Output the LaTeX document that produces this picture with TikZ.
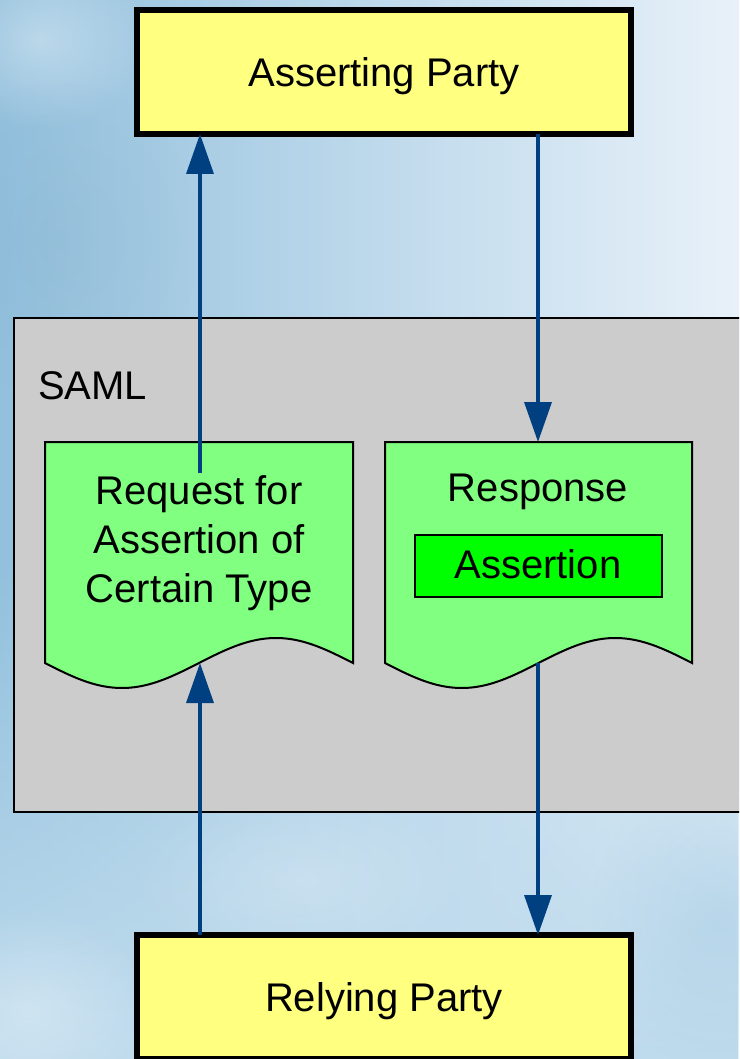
\documentclass[tikz,border=0pt]{standalone}
\usepackage{fontspec}
\setmainfont{Liberation Sans}
\usetikzlibrary{arrows.meta,fadings}

\definecolor{skyL}{RGB}{146,192,221}
\definecolor{skyR}{RGB}{232,241,249}
\definecolor{skyB}{RGB}{190,219,237}
\definecolor{partyfill}{RGB}{255,255,128}
\definecolor{docfill}{RGB}{128,255,128}
\definecolor{assertfill}{RGB}{0,255,0}
\definecolor{samlgray}{RGB}{204,204,204}
\definecolor{flowblue}{RGB}{0,64,128}

\tikzfading[name=softspot, inner color=transparent!0, outer color=transparent!100]

\tikzset{
  txtbig/.style={font=\fontsize{40}{48}\selectfont, inner sep=0pt, outer sep=0pt},
  party/.style={txtbig, draw=black, line width=6pt, fill=partyfill,
    minimum width=494pt, minimum height=124pt, text height=28.7pt, text depth=0pt},
  docshape/.style={draw=black, line width=2pt, fill=docfill},
  assertbox/.style={draw=black, line width=2pt, fill=assertfill},
  samlbox/.style={draw=black, line width=1.5pt, fill=samlgray},
  flow/.style={draw=flowblue, line width=3.5pt, -{Triangle[length=40pt,width=27pt]}},
}

\begin{document}
\begin{tikzpicture}[x=1pt, y=-1pt]
  \useasboundingbox (0,0) rectangle (739,1059);
  \clip (0,0) rectangle (739,1059);

  % sky background
  \shade[left color=skyL, right color=skyR] (0,0) rectangle (739,1059);
  \fill[skyB, path fading=north] (0,560) rectangle (739,1059);
  \fill[white, opacity=0.35, path fading=softspot] (40,40) ellipse [x radius=110pt, y radius=90pt];
  \fill[skyL!85!black, opacity=0.15, path fading=softspot] (60,240) ellipse [x radius=140pt, y radius=160pt];
  \fill[white, opacity=0.3, path fading=softspot] (30,1010) ellipse [x radius=130pt, y radius=100pt];
  \fill[white, opacity=0.2, path fading=softspot] (300,880) ellipse [x radius=170pt, y radius=90pt];
  \fill[skyL, opacity=0.3, path fading=softspot] (720,920) ellipse [x radius=130pt, y radius=150pt];

  % SAML region
  \draw[samlbox] (14,318) rectangle (760,812);
  \node[txtbig, anchor=base west] (samllabel) at (38,399) {SAML};

  % parties
  \node[party] (ap) at (384,72) {Asserting Party};
  \node[party] (rp) at (384,997) {Relying Party};

  % request document
  \draw[docshape] (45,442) -- (353,442) -- (353,663)
    -- plot[domain=0:1, samples=60, smooth] ({353-308*\x},{663-25*sin(360*\x)}) -- cycle;
  \node[txtbig, anchor=base] (req1) at (199,504) {Request for};
  \node[txtbig, anchor=base] (req2) at (199,553) {Assertion of};
  \node[txtbig, anchor=base] (req3) at (199,602) {Certain Type};
  \coordinate (reqin) at (200,473);
  \coordinate (reqwave) at (200,663);

  % response document
  \draw[docshape] (385,442) -- (692,442) -- (692,663)
    -- plot[domain=0:1, samples=60, smooth] ({692-307*\x},{663-25*sin(360*\x)}) -- cycle;
  \node[txtbig, anchor=base] (resp) at (538,501) {Response};
  \draw[assertbox] (415,535) rectangle (662,597);
  \node[txtbig, anchor=base] (assertion) at (538,578) {Assertion};
  \coordinate (restop) at (538,442);
  \coordinate (reswave) at (538,663);

  % message flows
  \draw[flow] (reqin) -- (reqin |- ap.south);
  \draw[flow] (restop |- ap.south) -- (restop);
  \draw[flow] (reqwave |- rp.north) -- (reqwave);
  \draw[flow] (reswave) -- (reswave |- rp.north);
\end{tikzpicture}
\end{document}
